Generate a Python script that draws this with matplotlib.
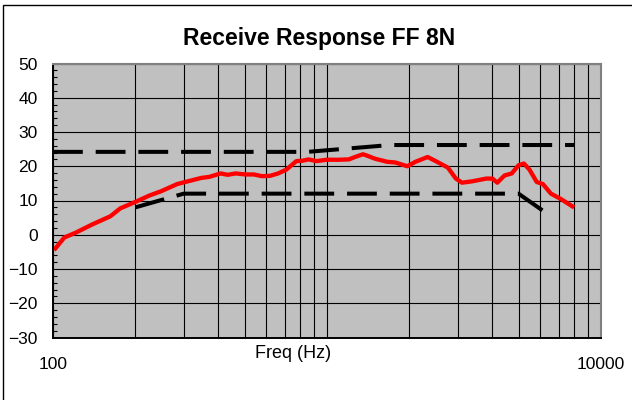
import numpy as np
import matplotlib
matplotlib.use('Agg')
import matplotlib.pyplot as plt
from matplotlib.patches import Rectangle
from matplotlib.ticker import LogLocator, MultipleLocator, NullFormatter

plt.rcParams['font.family'] = ['Liberation Sans', 'DejaVu Sans']

# measured receive response (Hz, dB)
freq = [102, 110, 121, 139, 162, 176, 200, 224, 248, 284, 314, 348, 372, 409,
        434, 464, 505, 541, 579, 620, 663, 710, 773, 813, 856, 916, 997, 1104,
        1202, 1265, 1353, 1400, 1497, 1659, 1775, 1964, 2103, 2329, 2493, 2761,
        2953, 3110, 3387, 3813, 4015, 4183, 4445, 4725, 5003, 5230, 5483, 5827,
        6136, 6566, 7150, 7859]
resp = [-4.0, -0.8, 0.6, 3.0, 5.4, 7.7, 9.6, 11.4, 12.7, 14.8, 15.7, 16.6,
        16.9, 17.9, 17.5, 17.9, 17.6, 17.6, 17.1, 17.2, 17.9, 19.0, 21.5, 21.6,
        22.0, 21.5, 21.9, 21.9, 22.0, 22.7, 23.5, 23.1, 22.2, 21.3, 21.1, 20.0,
        21.3, 22.7, 21.5, 19.6, 16.4, 15.2, 15.6, 16.4, 16.4, 15.2, 17.3, 17.9,
        20.3, 20.8, 19.0, 15.4, 14.8, 12.0, 10.4, 8.3]

# tolerance masks
upper_freq = [100, 850, 1700, 8000]
upper_db = [24.2, 24.2, 26.2, 26.2]
lower_freq = [200, 300, 5000, 6400]
lower_db = [8, 12, 12, 6]

y_ticks = [-30, -20, -10, 0, 10, 20, 30, 40, 50]
x_ticks = [100, 1000, 10000]
x_labels = ['100', '', '10000']

fig = plt.figure(figsize=(6.32, 4), dpi=100)
ax = fig.add_axes([53 / 632, 1 - 337.5 / 400, 548 / 632, 274 / 400])
ax.set_facecolor('#C0C0C0')

ax.set_xscale('log')
ax.set_xlim(100, 10000)
ax.set_ylim(-30, 50)

ax.set_xticks(x_ticks)
ax.set_xticklabels(x_labels)
ax.xaxis.set_minor_locator(LogLocator(base=10, subs=np.arange(2, 10)))
ax.xaxis.set_minor_formatter(NullFormatter())
ax.set_yticks(y_ticks)
ax.yaxis.set_minor_locator(MultipleLocator(2))

ax.tick_params(axis='x', which='both', length=0, labelsize=12.5, pad=14)
ax.tick_params(axis='y', which='major', length=0, labelsize=12.5, pad=11)
ax.tick_params(axis='y', which='minor', direction='in', length=3, width=0.8)

ax.grid(True, which='major', color='black', linewidth=0.8)
ax.xaxis.grid(True, which='minor', color='black', linewidth=0.8)
ax.set_axisbelow(True)

for s in ['top', 'right']:
    ax.spines[s].set_color('#808080')
    ax.spines[s].set_linewidth(1.5)
for s in ['left', 'bottom']:
    ax.spines[s].set_color('black')
    ax.spines[s].set_linewidth(1.4)

l1, = ax.plot(upper_freq, upper_db, color='black', lw=2.9)
l2, = ax.plot(lower_freq, lower_db, color='black', lw=2.9)
for ln in (l1, l2):
    ln.set_dashes((7.4, 3.2))
ax.plot(freq, resp, color='#FF0000', lw=3.1, solid_joinstyle='round')

fig.text(319 / 632, 1 - 38 / 400, 'Receive Response FF 8N', ha='center',
         va='center', fontsize=16.5, fontweight='bold')
fig.text(293 / 632, 1 - 354 / 400, 'Freq (Hz)', ha='center', va='center',
         fontsize=13)

fig.patches.append(Rectangle((3 / 632, -0.1), 1.2, 1.1 - 5 / 400,
                             transform=fig.transFigure, fill=False,
                             edgecolor='black', linewidth=1))

fig.savefig('out.png', dpi=100)
